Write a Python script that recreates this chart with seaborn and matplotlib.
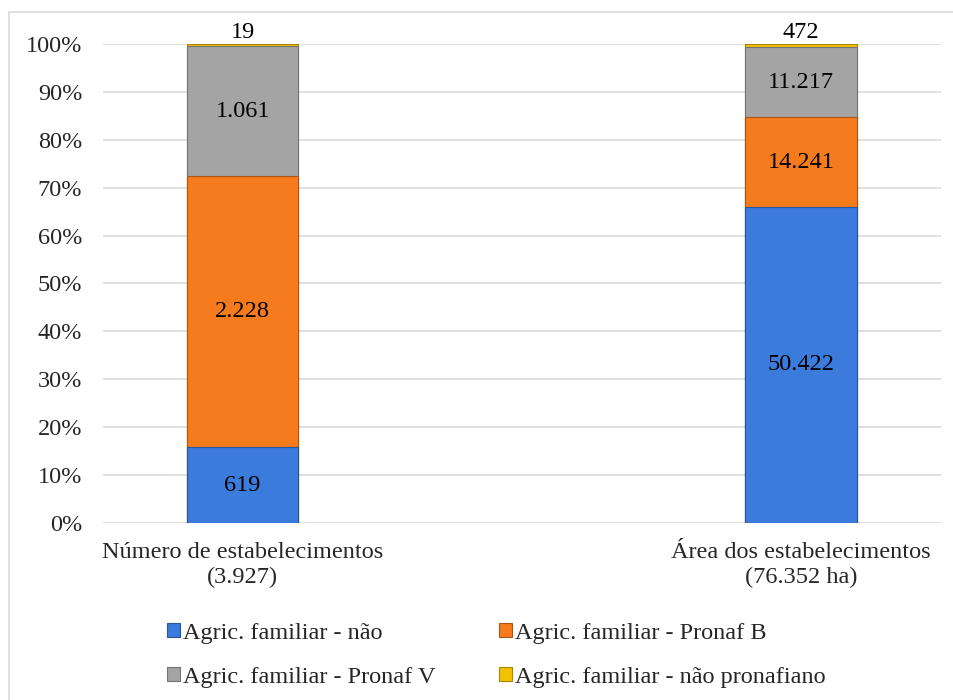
import numpy as np
import pandas as pd
import matplotlib
matplotlib.use("Agg")
import matplotlib.pyplot as plt
import matplotlib.colors as mcolors
from matplotlib.patches import Rectangle
import seaborn as sns

# data
categorias = ["Número de estabelecimentos\n(3.927)", "Área dos estabelecimentos\n(76.352 ha)"]
series = ["Agric. familiar - não", "Agric. familiar - Pronaf B",
          "Agric. familiar - Pronaf V", "Agric. familiar - não pronafiano"]
nao = [619, 50422]
pronaf_b = [2228, 14241]
pronaf_v = [1061, 11217]
nao_pronafiano = [19, 472]
rotulos = [["619", "50.422"], ["2.228", "14.241"], ["1.061", "11.217"], ["19", "472"]]
cores = ["#3a7bdb", "#f57b1c", "#a4a4a4", "#f2c200"]

df = pd.DataFrame({"cat": categorias, series[0]: nao, series[1]: pronaf_b,
                   series[2]: pronaf_v, series[3]: nao_pronafiano})
vals = df[series].to_numpy(dtype=float)
pct = vals / vals.sum(axis=1, keepdims=True) * 100
cum = pct.cumsum(axis=1)

sns.set_theme(style="white")
plt.rcParams["font.family"] = ["Liberation Serif", "DejaVu Serif"]
FS = 17.5

fig = plt.figure(figsize=(9.54, 7.0), dpi=100)
ax = fig.add_axes([0.108, 0.253, 0.878, 0.684])


def darker(c, f=0.7):
    return tuple(v * f for v in mcolors.to_rgb(c))


# stacked bars: draw cumulative totals from top down
for i in range(len(series) - 1, -1, -1):
    plot_df = pd.DataFrame({"cat": categorias, "v": cum[:, i]})
    sns.barplot(data=plot_df, x="cat", y="v", color=cores[i], width=0.2,
                saturation=1, ax=ax, zorder=2, edgecolor=darker(cores[i]),
                linewidth=0.8)

# segment labels
for i in range(len(series)):
    for j in range(len(categorias)):
        lo = cum[j, i - 1] if i > 0 else 0
        hi = cum[j, i]
        y = (lo + hi) / 2 if i < 3 else 102.4
        ax.text(j, y, rotulos[i][j], ha="center", va="center", fontsize=FS,
                color="black", zorder=5)

ax.set_xlim(-0.25, 1.25)
ax.set_ylim(0, 100)
ax.set_yticks(np.arange(0, 101, 10))
ax.set_yticklabels([f"{t}%" for t in range(0, 101, 10)])
ax.grid(axis="y", color="#d9d9d9", linewidth=1.2, zorder=0)
ax.set_axisbelow(True)
for s in ax.spines.values():
    s.set_visible(False)
ax.set_xlabel("")
ax.set_ylabel("")
ax.tick_params(axis="both", labelsize=FS, length=0)
ax.tick_params(axis="y", pad=15)
ax.tick_params(axis="x", pad=14)

handles = [Rectangle((0, 0), 1, 1, facecolor=c, edgecolor=darker(c), linewidth=0.8)
           for c in cores]
order = [0, 2, 1, 3]
fig.legend([handles[k] for k in order], [series[k] for k in order], loc="center",
           bbox_to_anchor=(0.52, 0.064), ncol=2, frameon=False, fontsize=FS,
           handlelength=0.55, handleheight=0.55, handletextpad=0.12,
           columnspacing=2.6, labelspacing=0.95)

fig.patches.append(Rectangle((0.009, -0.1), 1.1, 1.083, transform=fig.transFigure,
                             fill=False, edgecolor="#d9d9d9", linewidth=1.2))

fig.savefig("out.png", dpi=100)
